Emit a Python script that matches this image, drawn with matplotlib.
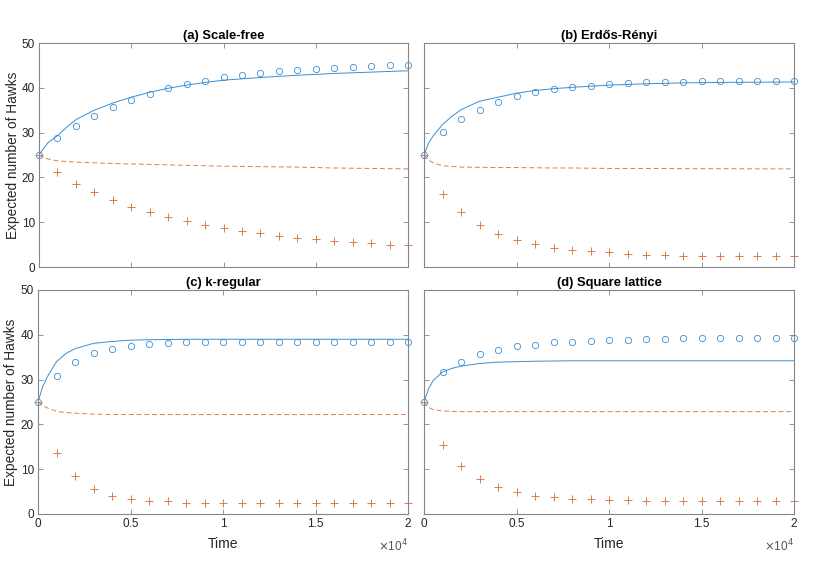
import numpy as np
import matplotlib.pyplot as plt

plt.rcParams['font.family'] = ['Liberation Sans', 'DejaVu Sans']

# simulation sample times (markers)
t_sim = np.arange(0, 20001, 1000)
# model curve times
t_mod = [0, 250, 500, 1000, 1500, 2000, 3000, 4000, 5000, 6000, 7000, 8000,
         9000, 10000, 12000, 14000, 16000, 18000, 20000]

titles = ['(a) Scale-free', '(b) Erdős-Rényi', '(c) k-regular', '(d) Square lattice']

# simulated hawks (circles) / doves (plus)
sim_hawk_a = [25.0, 28.8, 31.5, 33.6, 35.8, 37.35, 38.7, 39.9, 40.8, 41.6, 42.3,
              42.9, 43.3, 43.7, 44.0, 44.3, 44.5, 44.6, 44.9, 45.0, 45.2]
sim_dove_a = [25.0, 21.3, 18.5, 16.7, 15.0, 13.5, 12.2, 11.2, 10.3, 9.45, 8.7,
              8.0, 7.5, 7.0, 6.5, 6.25, 5.8, 5.5, 5.35, 5.0, 4.8]
sim_hawk_b = [25.0, 30.1, 33.0, 35.1, 36.9, 38.1, 39.0, 39.7, 40.1, 40.5, 40.85,
              41.1, 41.2, 41.3, 41.4, 41.45, 41.45, 41.5, 41.5, 41.5, 41.55]
sim_dove_b = [25.0, 16.4, 12.3, 9.4, 7.4, 6.0, 5.1, 4.2, 3.8, 3.6, 3.3,
              2.9, 2.7, 2.7, 2.5, 2.45, 2.45, 2.45, 2.45, 2.45, 2.45]
sim_hawk_c = [25.0, 30.7, 33.9, 35.9, 36.9, 37.5, 38.0, 38.2, 38.4, 38.4, 38.4,
              38.4, 38.4, 38.4, 38.4, 38.4, 38.4, 38.4, 38.4, 38.4, 38.4]
sim_dove_c = [25.0, 13.7, 8.4, 5.6, 4.0, 3.4, 3.0, 2.8, 2.5, 2.5, 2.5,
              2.5, 2.5, 2.5, 2.5, 2.5, 2.5, 2.5, 2.5, 2.5, 2.5]
sim_hawk_d = [25.0, 31.7, 34.0, 35.7, 36.6, 37.4, 37.8, 38.3, 38.5, 38.7, 38.9,
              38.95, 39.0, 39.1, 39.2, 39.2, 39.2, 39.2, 39.25, 39.25, 39.3]
sim_dove_d = [25.0, 15.5, 10.8, 7.8, 6.0, 4.85, 4.1, 3.7, 3.4, 3.25, 3.1,
              3.05, 3.0, 3.0, 3.0, 3.0, 3.0, 3.0, 3.0, 3.0, 3.0]

# model curves: hawks (solid) / doves (dashed)
mod_hawk_a = [25.0, 26.5, 27.8, 29.3, 31.2, 32.9, 35.0, 36.6, 37.9, 39.0, 39.9,
              40.6, 41.2, 41.7, 42.3, 42.8, 43.2, 43.5, 43.8]
mod_dove_a = [25.0, 24.4, 24.1, 23.7, 23.55, 23.4, 23.25, 23.1, 23.0, 22.9, 22.8,
              22.7, 22.6, 22.5, 22.4, 22.3, 22.1, 22.0, 21.9]
mod_hawk_b = [25.0, 27.7, 29.3, 31.8, 33.6, 35.1, 37.0, 37.9, 38.8, 39.4, 39.8,
              40.1, 40.35, 40.6, 40.9, 41.1, 41.2, 41.25, 41.3]
mod_dove_b = [25.0, 23.9, 23.2, 22.6, 22.45, 22.3, 22.25, 22.2, 22.2, 22.15, 22.1,
              22.1, 22.05, 22.0, 22.0, 21.95, 21.95, 21.9, 21.9]
mod_hawk_c = [25.0, 28.4, 30.6, 34.0, 35.8, 36.9, 38.1, 38.5, 38.8, 38.9, 38.95,
              39.0, 39.0, 39.0, 39.0, 39.0, 39.0, 39.0, 39.0]
mod_dove_c = [25.0, 24.2, 23.7, 22.9, 22.65, 22.5, 22.3, 22.2, 22.2, 22.2, 22.2,
              22.2, 22.2, 22.2, 22.2, 22.2, 22.2, 22.2, 22.2]
mod_hawk_d = [25.0, 28.0, 29.8, 31.7, 32.5, 33.0, 33.6, 33.9, 34.0, 34.1, 34.15,
              34.2, 34.2, 34.2, 34.2, 34.2, 34.2, 34.2, 34.2]
mod_dove_d = [25.0, 23.8, 23.3, 23.0, 22.9, 22.85, 22.85, 22.85, 22.85, 22.85, 22.85,
              22.85, 22.85, 22.85, 22.85, 22.85, 22.85, 22.85, 22.85]

sim_hawk = [sim_hawk_a, sim_hawk_b, sim_hawk_c, sim_hawk_d]
sim_dove = [sim_dove_a, sim_dove_b, sim_dove_c, sim_dove_d]
mod_hawk = [mod_hawk_a, mod_hawk_b, mod_hawk_c, mod_hawk_d]
mod_dove = [mod_dove_a, mod_dove_b, mod_dove_c, mod_dove_d]

blue = '#3b8fd2'
orange = '#e5784a'
axcol = '#858585'
txtcol = '#262626'

fig = plt.figure(figsize=(8.3, 5.88), dpi=100)

positions = [[39/830, 1-267/588, 369/830, 224/588],
             [424/830, 1-267/588, 370/830, 224/588],
             [38/830, 1-514/588, 370/830, 224/588],
             [424/830, 1-514/588, 370/830, 224/588]]

for i in range(4):
    ax = fig.add_axes(positions[i])
    ax.plot(t_mod, mod_hawk[i], '-', color=blue, linewidth=0.7)
    ax.plot(t_mod, mod_dove[i], '--', color=orange, linewidth=0.7, dashes=(5, 3))
    ax.plot(t_sim, sim_hawk[i], 'o', color=blue, markerfacecolor='none',
            markersize=4.5, markeredgewidth=0.6, clip_on=False)
    ax.plot(t_sim, sim_dove[i], '+', color=orange, markersize=5.5,
            markeredgewidth=0.7, clip_on=False)

    ax.set_xlim(0, 20000)
    ax.set_ylim(0, 50)
    ax.set_xticks([0, 5000, 10000, 15000, 20000])
    ax.set_yticks([0, 10, 20, 30, 40, 50])
    ax.tick_params(direction='in', length=3.5, width=0.6, color=axcol,
                   labelsize=8.5, labelcolor=txtcol, top=True, right=True, pad=3)
    for s in ax.spines.values():
        s.set_color(axcol)
        s.set_linewidth(0.8)
    ax.set_title(titles[i], fontsize=9.4, fontweight='bold', color='black', pad=3)

    if i < 2:
        ax.set_xticklabels([])
    else:
        ax.set_xticklabels(['0', '0.5', '1', '1.5', '2'])
        ax.set_xlabel('Time', fontsize=10, color=txtcol, labelpad=5)
        ax.text(1.0, -0.105, r'$\times$10$^4$', transform=ax.transAxes,
                ha='right', va='top', fontsize=8.5, color='#555555')
    if i % 2 == 1:
        ax.set_yticklabels([])
    else:
        ax.set_ylabel('Expected number of Hawks', fontsize=9.8, color=txtcol, labelpad=1.5)

plt.savefig('out.png', dpi=100)
